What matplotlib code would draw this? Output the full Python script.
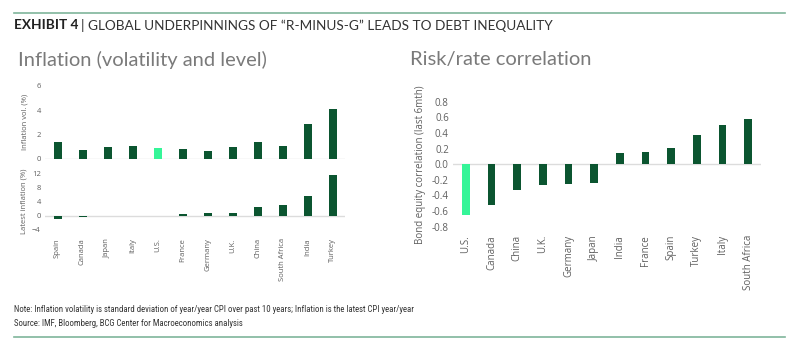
import matplotlib
matplotlib.use("Agg")
import matplotlib.pyplot as plt
from matplotlib.lines import Line2D
from matplotlib import font_manager

# ---- data ----
left_countries = ["Spain", "Canada", "Japan", "Italy", "U.S.", "France", "Germany",
                  "U.K.", "China", "South Africa", "India", "Turkey"]
inflation_vol = [1.37, 0.71, 1.0, 1.08, 0.9, 0.77, 0.64, 1.0, 1.38, 1.03, 2.87, 4.1]
latest_inflation = [-0.85, -0.3, 0.05, 0.05, 0.05, 0.45, 0.7, 0.85, 2.5, 3.0, 5.5, 11.5]

right_countries = ["U.S.", "Canada", "China", "U.K.", "Germany", "Japan", "India",
                   "France", "Spain", "Turkey", "Italy", "South Africa"]
bond_equity_corr = [-0.65, -0.52, -0.335, -0.26, -0.25, -0.24, 0.145, 0.15, 0.21, 0.37, 0.50, 0.575]

vol_ticks = [0, 2, 4, 6]
infl_ticks = [-4, 0, 4, 8, 12]
corr_ticks = [-0.8, -0.6, -0.4, -0.2, 0.0, 0.2, 0.4, 0.6, 0.8]
highlight = "U.S."

DARK = "#0b5530"
LIGHT = "#35f598"
GREY = "#5f5f5f"
ZERO = "#dcdcdc"
RULE = "#7fb59b"

plt.rcParams["font.family"] = ["Open Sans", "DejaVu Sans"]


def first_font(names):
    for n in names:
        try:
            font_manager.findfont(font_manager.FontProperties(family=n),
                                  fallback_to_default=False)
            return n
        except Exception:
            continue
    return "DejaVu Sans"


fig = plt.figure(figsize=(8, 3.5), dpi=100)
W, H = 800.0, 350.0


def ax_px(x0, y0, x1, y1):
    return fig.add_axes([x0 / W, 1 - y1 / H, (x1 - x0) / W, (y1 - y0) / H])


def colors(names):
    return [LIGHT if n == highlight else DARK for n in names]


def style(ax, ticks, fs):
    for s in ax.spines.values():
        s.set_visible(False)
    ax.axhline(0, color=ZERO, lw=1.0, zorder=0)
    ax.set_yticks(ticks)
    ax.tick_params(length=0, labelsize=fs, colors=GREY, pad=3)


# top-left: inflation volatility
ax1 = ax_px(45, 86, 345, 158.7)
x = range(len(left_countries))
ax1.bar(x, inflation_vol, width=0.32, color=colors(left_countries))
ax1.set_xlim(-0.5, len(left_countries) - 0.5)
ax1.set_ylim(0, 6)
style(ax1, vol_ticks, 5.5)
ax1.set_xticks([])
ax1.set_ylabel("Inflation vol. (%)", fontsize=5.5, color=GREY, labelpad=6)

# bottom-left: latest inflation
ax2 = ax_px(45, 173.3, 345, 230)
ax2.bar(x, latest_inflation, width=0.32, color=colors(left_countries))
ax2.set_xlim(-0.5, len(left_countries) - 0.5)
ax2.set_ylim(-4, 12)
style(ax2, infl_ticks, 5.5)
ax2.set_xticks(list(x))
ax2.set_xticklabels(left_countries, rotation=90, fontsize=5.5, color=GREY)
ax2.tick_params(axis="x", pad=6)
ax2.set_ylabel("Latest inflation (%)", fontsize=5.5, color=GREY, labelpad=3)

# right: bond/equity correlation
ax3 = ax_px(453, 101.7, 761, 226.7)
xr = range(len(right_countries))
ax3.bar(xr, bond_equity_corr, width=0.3, color=colors(right_countries))
ax3.set_xlim(-0.5, len(right_countries) - 0.5)
ax3.set_ylim(-0.8, 0.8)
style(ax3, corr_ticks, 7)
ax3.set_yticklabels([f"{t:.1f}" for t in corr_ticks])
ax3.set_xticks(list(xr))
ax3.set_xticklabels(right_countries, rotation=90, fontsize=7, color=GREY)
ax3.tick_params(axis="x", pad=6)
ax3.set_ylabel("Bond equity correlation (last 6mth)", fontsize=7, color=GREY, labelpad=4)

# header / footer
head_fam = [first_font(["Lato", "Open Sans"]), "DejaVu Sans"]
fig.add_artist(Line2D([14 / W, 785 / W], [1 - 13 / H, 1 - 13 / H], color=RULE, lw=1.2))
fig.add_artist(Line2D([14 / W, 785 / W], [1 - 337 / H, 1 - 337 / H], color=RULE, lw=1.2))
t1 = fig.text(14 / W, 1 - 25 / H, "EXHIBIT 4", fontsize=9.8, fontweight="bold",
              color="#222222", va="center", family=head_fam)
fig.canvas.draw()
bb = t1.get_window_extent()
fig.text(bb.x1 / W + 0.003, 1 - 25 / H,
         "| GLOBAL UNDERPINNINGS OF \u201cR-MINUS-G\u201d LEADS TO DEBT INEQUALITY",
         fontsize=9.8, color="#333333", va="center", family=head_fam)
fig.text(18 / W, 1 - 60 / H, "Inflation (volatility and level)", fontsize=14.5,
         color="#7a7a7a", va="center", family=head_fam)
fig.text(410 / W, 1 - 60 / H, "Risk/rate correlation", fontsize=14.5,
         color="#7a7a7a", va="center", family=head_fam)

foot_fam = [first_font(["Liberation Sans Narrow", "Roboto Condensed", "Open Sans Condensed",
                        "Roboto"]), "DejaVu Sans"]
fig.text(14 / W, 1 - 310 / H,
         "Note: Inflation volatility is standard deviation of year/year CPI over past 10 years; "
         "Inflation is the latest CPI year/year",
         fontsize=6.3, color="#333333", va="center", family=foot_fam)
fig.text(14 / W, 1 - 323 / H,
         "Source: IMF, Bloomberg, BCG Center for Macroeconomics analysis",
         fontsize=6.3, color="#333333", va="center", family=foot_fam)

fig.savefig("out.png", dpi=100)
